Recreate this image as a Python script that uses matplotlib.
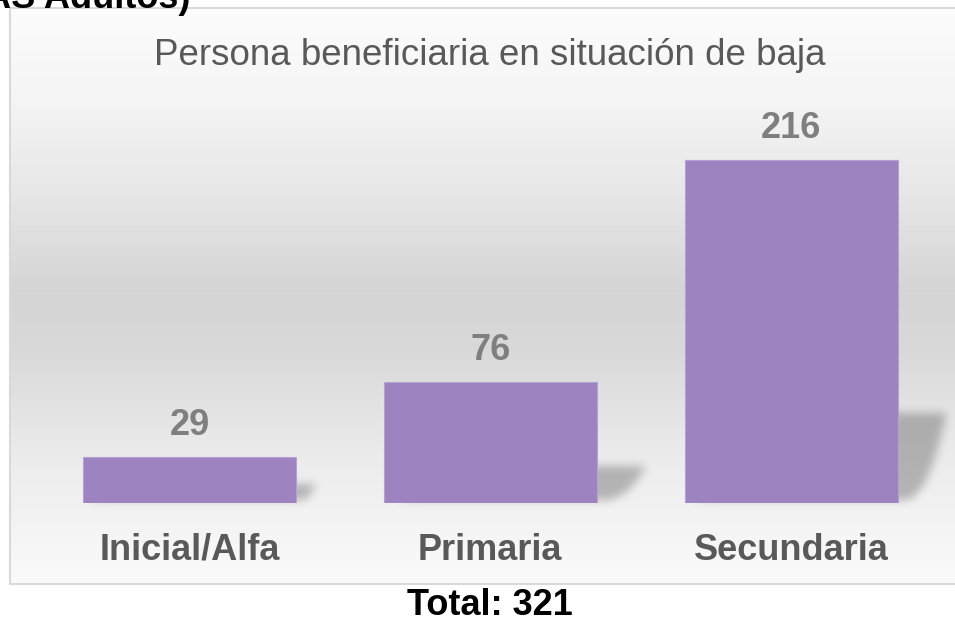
import numpy as np
import matplotlib
matplotlib.use("Agg")
import matplotlib.pyplot as plt
from matplotlib.patches import Rectangle

categories = ["Inicial/Alfa", "Primaria", "Secundaria"]
values = [29, 76, 216]
title = "Persona beneficiaria en situación de baja"
total_label = "Total: 321"
header = "(CEBAS Adultos)"

W, H = 955, 622
plt.rcParams['font.family'] = ['Liberation Sans', 'DejaVu Sans']
fig = plt.figure(figsize=(W / 100, H / 100), dpi=100)

# Background layer in pixel coordinates (y grows downward)
bg = fig.add_axes([0, 0, 1, 1])
bg.set_xlim(0, W)
bg.set_ylim(H, 0)
bg.axis('off')

box_l, box_t, box_r, box_b = 10, 8, 962, 584
ys = np.arange(box_t, box_b)
shade = np.interp(ys, [8, 100, 200, 290, 350, 450, 584],
                  [0.99, 0.96, 0.90, 0.835, 0.85, 0.92, 0.985])
grad = np.repeat(shade[:, None, None], 3, axis=2)
grad = np.repeat(grad, 2, axis=1)
bg.imshow(grad, extent=(box_l, box_r, box_b, box_t), aspect='auto',
          interpolation='bilinear', zorder=0)
bg.add_patch(Rectangle((box_l, box_t), box_r - box_l, box_b - box_t,
                       fill=False, edgecolor='#d9d9d9', lw=1.5, zorder=3))

# Bar chart axes
x = np.arange(len(categories))
ax = fig.add_axes([39 / W, (H - 503) / H, 902.5 / W, 397.5 / H])
ax.set_xlim(-0.5, 2.5)
ax.set_ylim(0, 250)
ax.patch.set_alpha(0)
for s in ax.spines.values():
    s.set_visible(False)
ax.set_xticks([])
ax.set_yticks([])

bar_w = 0.708
bars = ax.bar(x, values, width=bar_w, color='#9D84C1', edgecolor='#B3A2D3',
              lw=0.8, zorder=3)


def to_px(px, py):
    d = ax.transData.transform((px, py))
    return d[0], H - d[1]


def blur(a, s):
    r = int(3 * s)
    k = np.exp(-0.5 * (np.arange(-r, r + 1) / s) ** 2)
    k /= k.sum()
    a = np.apply_along_axis(lambda m: np.convolve(m, k, 'same'), 0, a)
    a = np.apply_along_axis(lambda m: np.convolve(m, k, 'same'), 1, a)
    return a


# Perspective drop shadows behind the bars
mask = np.zeros((H, W))
for xi, v in zip(x, values):
    xl, ytop = to_px(xi - bar_w / 2, v)
    xr, ybase = to_px(xi + bar_w / 2, 0)
    h = ybase - ytop
    hs = 0.24 * h + 4
    dx = min(0.38 * h, 46)
    base = ybase - 3
    for row in range(int(base - hs), int(base)):
        t = (base - row) / hs
        off = 2 + dx * t ** 0.4
        mask[row, int(xl + off):int(xr + off)] = 1.0
mask = blur(mask, 4.5)
shadow = np.zeros((H, W, 4))
shadow[..., 3] = mask * 0.25
bg.imshow(shadow, extent=(0, W, H, 0), aspect='auto', zorder=1,
          interpolation='bilinear')

# Value labels and category labels
for xi, v in zip(x, values):
    ax.annotate(str(v), (xi, v), xytext=(0, 22 * 0.72), textcoords='offset points',
                ha='center', va='baseline', fontsize=26, fontweight='bold',
                color='#7F7F7F')
    ax.annotate(categories[xi], (xi, 0), xytext=(0, -57 * 0.72),
                textcoords='offset points', ha='center', va='baseline',
                fontsize=26, fontweight='bold', color='#595959')

fig.text(490 / W, 1 - 65 / H, title, ha='center', va='baseline',
         fontsize=26.5, color='#595959')
fig.text(490 / W, 1 - 615 / H, total_label, ha='center', va='baseline',
         fontsize=26, fontweight='bold', color='black')
fig.text(190 / W, 1 - 8 / H, header, ha='right', va='baseline',
         fontsize=26, fontweight='bold', color='black')

fig.savefig('out.png', dpi=100)
